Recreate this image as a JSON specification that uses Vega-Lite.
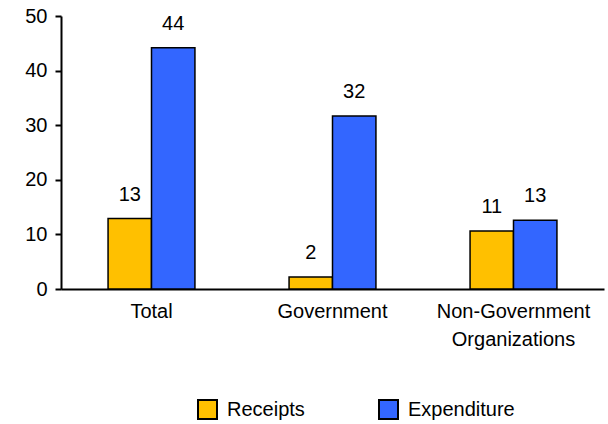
{
  "$schema": "https://vega.github.io/schema/vega-lite/v6.json",
  "width": 543,
  "height": 273,
  "autosize": "none",
  "padding": {"left": 61, "top": 16, "right": 4, "bottom": 135},
  "background": "white",
  "config": {
    "font": "Liberation Sans, Arial, sans-serif",
    "view": {"stroke": null}
  },
  "data": {
    "values": [
      {"category": "Total", "series": "Receipts", "value": 12.9},
      {"category": "Total", "series": "Expenditure", "value": 44.2},
      {"category": "Government", "series": "Receipts", "value": 2.2},
      {"category": "Government", "series": "Expenditure", "value": 31.7},
      {"category": "Non-Government Organizations", "series": "Receipts", "value": 10.6},
      {"category": "Non-Government Organizations", "series": "Expenditure", "value": 12.6}
    ]
  },
  "encoding": {
    "x": {
      "field": "category",
      "type": "nominal",
      "sort": ["Total", "Government", "Non-Government Organizations"],
      "scale": {"paddingInner": 0.52, "paddingOuter": 0.26},
      "axis": {
        "title": null,
        "labelAngle": 0,
        "ticks": false,
        "domainColor": "black",
        "domainWidth": 2,
        "labelColor": "black",
        "labelFontSize": 20,
        "labelPadding": 12,
        "labelLineHeight": 28,
        "labelLimit": 300,
        "labelExpr": "datum.label == 'Non-Government Organizations' ? ['Non-Government', 'Organizations'] : datum.label"
      }
    },
    "xOffset": {"field": "series", "type": "nominal", "sort": ["Receipts", "Expenditure"]},
    "y": {
      "field": "value",
      "type": "quantitative",
      "scale": {"domain": [0, 50]},
      "axis": {
        "title": null,
        "grid": false,
        "values": [0, 10, 20, 30, 40, 50],
        "tickSize": 6,
        "tickColor": "black",
        "tickWidth": 2,
        "domainColor": "black",
        "domainWidth": 2,
        "labelColor": "black",
        "labelFontSize": 20,
        "labelPadding": 8
      }
    }
  },
  "layer": [
    {
      "mark": {"type": "bar", "stroke": "black", "strokeWidth": 1.5},
      "encoding": {
        "color": {
          "field": "series",
          "type": "nominal",
          "sort": ["Receipts", "Expenditure"],
          "scale": {"domain": ["Receipts", "Expenditure"], "range": ["#FFC000", "#3366FF"]},
          "legend": {
            "title": null,
            "orient": "none",
            "direction": "horizontal",
            "legendX": 136,
            "legendY": 383,
            "symbolType": "square",
            "symbolSize": 361,
            "symbolStrokeColor": "black",
            "symbolStrokeWidth": 2,
            "symbolOpacity": 1,
            "labelFontSize": 20,
            "labelColor": "black",
            "labelOffset": 9,
            "columnPadding": 70
          }
        }
      }
    },
    {
      "mark": {"type": "text", "dy": -24, "baseline": "middle", "fontSize": 20, "color": "black"},
      "encoding": {
        "text": {"field": "value", "type": "quantitative", "format": ".0f"}
      }
    }
  ]
}
